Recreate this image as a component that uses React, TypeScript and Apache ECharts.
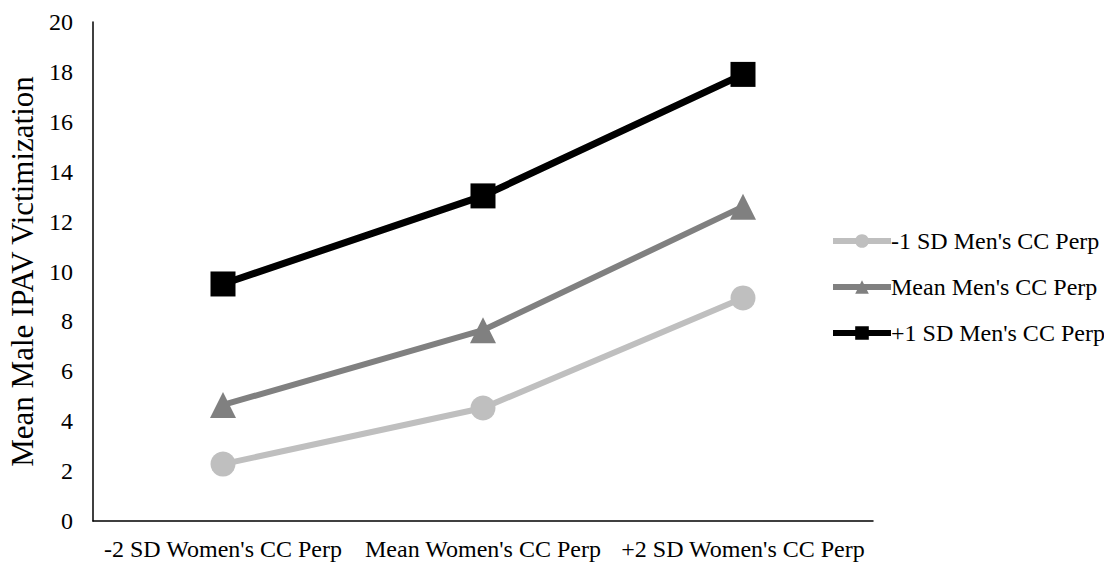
import React, { useEffect, useRef } from "react";
import * as echarts from "echarts";

const categories = ["-2 SD Women's CC Perp", "Mean Women's CC Perp", "+2 SD Women's CC Perp"];
const lowSeries = [2.28, 4.53, 8.94];
const meanSeries = [4.65, 7.65, 12.6];
const highSeries = [9.5, 13.03, 17.9];
const seriesNames = ["-1 SD Men's CC Perp", "Mean Men's CC Perp", "+1 SD Men's CC Perp"];

const FONT = "Liberation Serif";

export default function App() {
  const ref = useRef<HTMLDivElement>(null);
  useEffect(() => {
    if (!ref.current) return;
    const chart = echarts.init(ref.current, undefined, { renderer: "svg" });
    chart.setOption({
      animation: false,
      backgroundColor: "#ffffff",
      textStyle: { fontFamily: FONT },
      grid: { left: 93, right: 231, top: 22, bottom: 42, containLabel: false, outerBoundsMode: "none" },
      legend: {
        orient: "vertical",
        left: 830,
        top: 229,
        padding: 0,
        itemWidth: 58,
        itemHeight: 17,
        itemGap: 22,
        textStyle: { fontFamily: FONT, fontSize: 24, color: "#000", padding: [0, 0, 0, -5] },
        lineStyle: { width: 6 },
        data: seriesNames,
      },
      xAxis: {
        type: "category",
        data: categories,
        boundaryGap: true,
        axisLine: { lineStyle: { color: "#000", width: 1.5 } },
        axisTick: { show: false },
        axisLabel: { fontFamily: FONT, fontSize: 24, color: "#000", margin: 16, interval: 0 },
      },
      yAxis: {
        type: "value",
        min: 0,
        max: 20,
        interval: 2,
        name: "Mean Male IPAV Victimization",
        nameLocation: "middle",
        nameGap: 51,
        nameTextStyle: { fontFamily: FONT, fontSize: 31, color: "#000" },
        axisLine: { show: true, lineStyle: { color: "#000", width: 1.5 } },
        axisTick: { show: false },
        splitLine: { show: false },
        axisLabel: { fontFamily: FONT, fontSize: 24, color: "#000", margin: 20 },
      },
      series: [
        {
          name: seriesNames[0],
          type: "line",
          data: lowSeries,
          symbol: "circle",
          symbolSize: 25,
          lineStyle: { color: "#bfbfbf", width: 6 },
          itemStyle: { color: "#bfbfbf" },
        },
        {
          name: seriesNames[1],
          type: "line",
          data: meanSeries,
          symbol: "triangle",
          symbolSize: 26,
          lineStyle: { color: "#808080", width: 6 },
          itemStyle: { color: "#808080" },
        },
        {
          name: seriesNames[2],
          type: "line",
          data: highSeries,
          symbol: "rect",
          symbolSize: 25,
          lineStyle: { color: "#000000", width: 7 },
          itemStyle: { color: "#000000" },
        },
      ],
    });
    return () => chart.dispose();
  }, []);
  return (
    <div
      ref={ref}
      style={{ position: "absolute", left: 0, top: 0, width: 1104, height: 563 }}
    />
  );
}
